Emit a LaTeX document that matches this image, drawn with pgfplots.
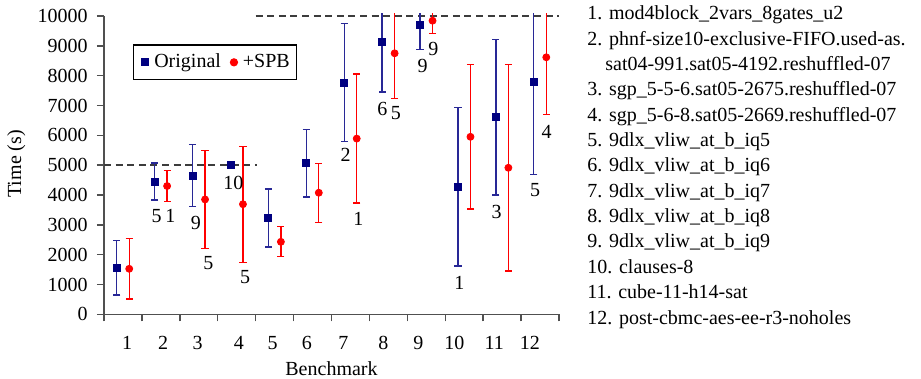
\documentclass[border=0pt]{standalone}
\usepackage{fontspec}
\setmainfont{Liberation Serif}
\usepackage{pgfplots}
\pgfplotsset{compat=1.18}
\definecolor{navy}{RGB}{0,0,128}
\definecolor{ebblue}{RGB}{40,40,150}
\definecolor{axgray}{RGB}{80,80,80}
\definecolor{dashgray}{RGB}{60,60,60}
\begin{document}
\begin{tikzpicture}
\useasboundingbox (0,0) rectangle (460.5pt,-189.5pt);
\begin{axis}[
  at={(52pt,-157.15pt)}, anchor=south west,
  scale only axis, width=227.5pt, height=150.5pt,
  xmin=0.5, xmax=12.5, ymin=0, ymax=10090,
  axis x line=bottom, axis y line=left,
  axis line style={-, draw=axgray, line width=0.7pt},
  y axis line style={shorten >=1.35pt},
  tick align=outside, major tick length=3.5pt, minor tick length=3.5pt,
  tick style={axgray, line width=0.7pt},
  ytick={0,1000,...,10000},
  scaled y ticks=false,
  /pgf/number format/.cd, set thousands separator={}, assume math mode=true,
  /pgfplots/.cd,
  xtick={1.107,2.056,2.971,4.06,4.949,5.853,6.811,7.866,8.789,9.743,10.79,11.73},
  xticklabels={1,2,3,4,5,6,7,8,9,10,11,12},
  minor xtick={0.5,1.5,...,12.5},
  major x tick style={draw=none},
  xticklabel style={anchor=base, yshift=-14.25pt},
  yticklabel style={xshift=-1.2pt},
  xlabel={Benchmark},
  xlabel style={at={(axis description cs:0.5,-0.2017)}, anchor=base},
  ylabel={Time (s)},
  ylabel style={at={(axis description cs:-0.1824,0.5)}, anchor=base, rotate=0},
  clip mode=individual,
  legend columns=2,
  legend style={at={(axis description cs:0.0631,0.897)}, anchor=north west,
    draw=black, line width=0.6pt, inner xsep=1.5pt, inner ysep=2.5pt, font=\normalsize},
  legend image code/.code={\path[draw=none,fill=none] (0pt,0pt) -- (7pt,0pt); \draw[#1] plot coordinates {(4.5pt,0pt)};},
]
\addplot[forget plot, dashgray, line width=0.65pt, dash pattern=on 3.5pt off 2.3pt] coordinates {(0.5,5000) (4.53,5000)};
\addplot[forget plot, dashgray, line width=0.65pt, dash pattern=on 3.5pt off 2.3pt] coordinates {(4.5,10000) (12.5,10000)};
\addplot[only marks, mark=square*, mark size=1.75pt, mark options={draw=navy, fill=navy}, navy,
  error bars/.cd, y dir=both, y explicit,
  error bar style={ebblue, line width=0.65pt},
  error mark options={rotate=90, ebblue, mark size=1.8pt, line width=0.65pt}]
coordinates {
(0.835,1560) +- (0,915)
(1.835,4450) +- (0,620)
(2.835,4646) +- (0,1040)
(3.835,5000) +- (0,0)
(4.835,3228) +- (0,972)
(5.835,5060) +- (0,1128)
(6.835,7764) +- (0,1978)
(7.835,9139) +- (0,1687)
(8.835,9698) +- (0,814)
(9.835,4280) +- (0,2660)
(10.835,6606) +- (0,2610)
(11.835,7797) +- (0,3104)
};
\addlegendentry{Original}
\addplot[only marks, mark=*, mark size=1.75pt, mark options={draw=red, fill=red}, red,
  error bars/.cd, y dir=both, y explicit,
  error bar style={red, line width=0.65pt},
  error mark options={rotate=90, red, mark size=1.8pt, line width=0.65pt}]
coordinates {
(1.165,1525) +- (0,1010)
(2.165,4300) +- (0,520)
(3.165,3850) +- (0,1636)
(4.165,3690) +- (0,1945)
(5.165,2430) +- (0,503)
(6.165,4075) +- (0,989)
(7.165,5890) +- (0,2162)
(8.165,8749) +- (0,1508)
(9.165,9842) +- (0,435)
(10.165,5950) +- (0,2419)
(11.165,4912) +- (0,3458)
(12.165,8615) +- (0,1910)
};
\addlegendentry{+SPB}
\node at (axis cs:1.890,3295) {5};
\node at (axis cs:2.249,3295) {1};
\node at (axis cs:2.926,3071) {9};
\node at (axis cs:3.251,1730) {5};
\node at (axis cs:3.910,4412) {10};
\node at (axis cs:4.219,1240) {5};
\node at (axis cs:6.874,5340) {2};
\node at (axis cs:7.207,3185) {1};
\node at (axis cs:7.840,6882) {6};
\node at (axis cs:8.201,6738) {5};
\node at (axis cs:8.905,8334) {9};
\node at (axis cs:9.185,8884) {9};
\node at (axis cs:9.870,1059) {1};
\node at (axis cs:10.857,3439) {3};
\node at (axis cs:11.867,4167) {5};
\node at (axis cs:12.176,6121) {4};
\end{axis}
\begin{scope}[every node/.style={anchor=base west, inner sep=0pt}]
\node at (293.5pt,-10pt) {1. mod4block\_2vars\_8gates\_u2};
\node at (293.5pt,-22.67pt) {2. phnf-size10-exclusive-FIFO.used-as.};
\node at (302.5pt,-35.33pt) {sat04-991.sat05-4192.reshuffled-07};
\node at (293.5pt,-48pt) {3. sgp\_5-5-6.sat05-2675.reshuffled-07};
\node at (293.5pt,-60.67pt) {4. sgp\_5-6-8.sat05-2669.reshuffled-07};
\node at (293.5pt,-73.33pt) {5. 9dlx\_vliw\_at\_b\_iq5};
\node at (293.5pt,-86pt) {6. 9dlx\_vliw\_at\_b\_iq6};
\node at (293.5pt,-98.67pt) {7. 9dlx\_vliw\_at\_b\_iq7};
\node at (293.5pt,-111.33pt) {8. 9dlx\_vliw\_at\_b\_iq8};
\node at (293.5pt,-124pt) {9. 9dlx\_vliw\_at\_b\_iq9};
\node at (293.5pt,-136.67pt) {10. clauses-8};
\node at (293.5pt,-149.33pt) {11. cube-11-h14-sat};
\node at (293.5pt,-162pt) {12. post-cbmc-aes-ee-r3-noholes};
\end{scope}
\end{tikzpicture}
\end{document}
